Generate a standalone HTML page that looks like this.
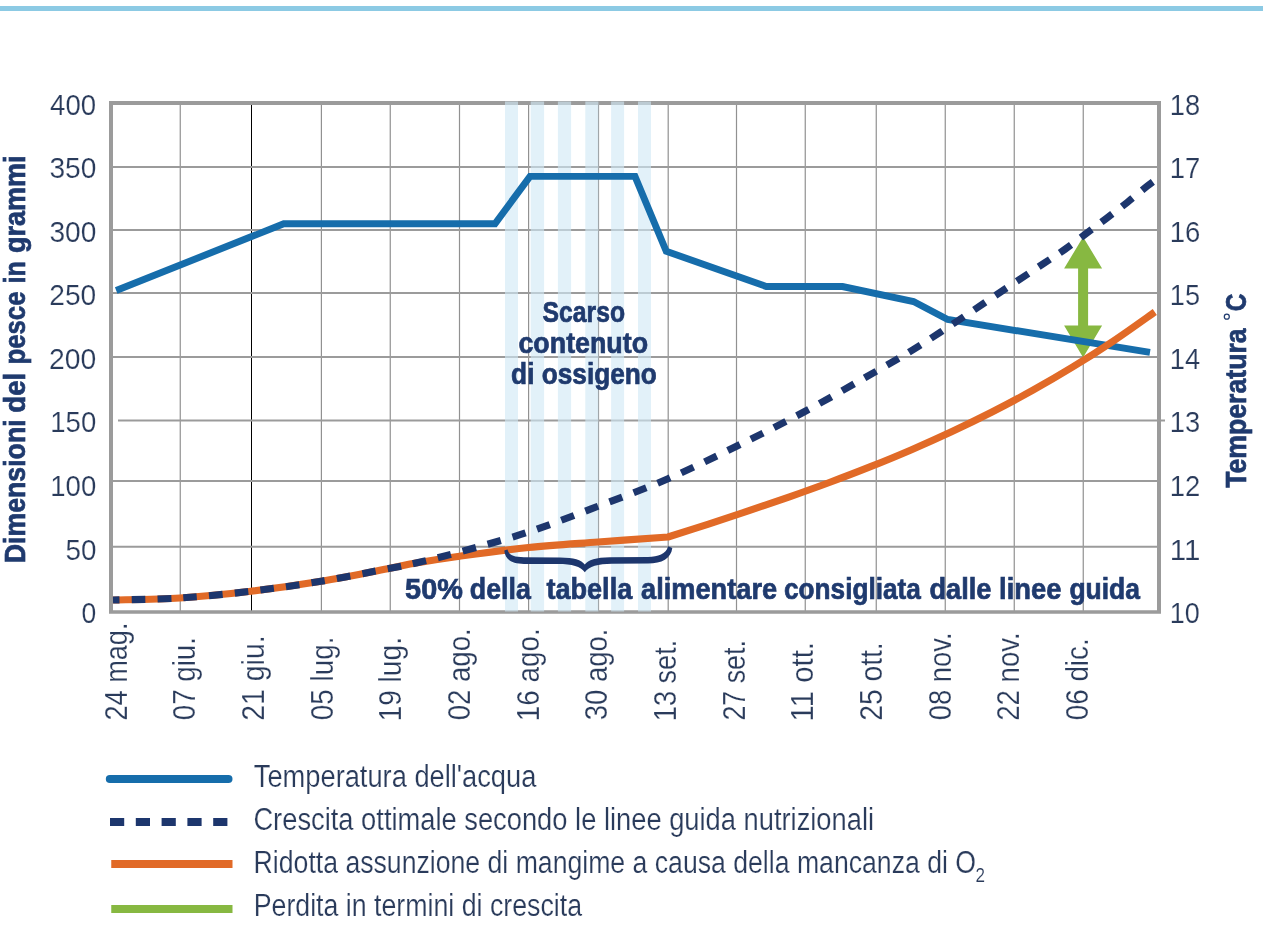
<!DOCTYPE html>
<html><head><meta charset="utf-8"><title>Chart</title>
<style>html,body{margin:0;padding:0;background:#fff;overflow:hidden;}svg{display:block;will-change:transform;}text{font-family:"Liberation Sans",sans-serif;}</style></head><body>
<svg width="1263" height="930" viewBox="0 0 1263 930">
<rect width="1263" height="930" fill="#ffffff"/>
<rect x="0" y="6" width="1263" height="5" fill="#8ccae4"/>
<line x1="180.25" y1="103" x2="180.25" y2="611" stroke="#919191" stroke-width="1.2"/>
<rect x="251" y="101" width="1" height="511" fill="#000"/>
<line x1="321.40" y1="103" x2="321.40" y2="611" stroke="#919191" stroke-width="1.2"/>
<line x1="390.25" y1="103" x2="390.25" y2="611" stroke="#919191" stroke-width="1.2"/>
<line x1="459.50" y1="103" x2="459.50" y2="611" stroke="#919191" stroke-width="1.2"/>
<line x1="528.60" y1="103" x2="528.60" y2="611" stroke="#919191" stroke-width="1.2"/>
<line x1="598.50" y1="103" x2="598.50" y2="611" stroke="#919191" stroke-width="1.2"/>
<line x1="668.20" y1="103" x2="668.20" y2="611" stroke="#919191" stroke-width="1.2"/>
<line x1="736.50" y1="103" x2="736.50" y2="611" stroke="#919191" stroke-width="1.2"/>
<line x1="805.25" y1="103" x2="805.25" y2="611" stroke="#919191" stroke-width="1.2"/>
<line x1="876.25" y1="103" x2="876.25" y2="611" stroke="#919191" stroke-width="1.2"/>
<line x1="945.25" y1="103" x2="945.25" y2="611" stroke="#919191" stroke-width="1.2"/>
<line x1="1014.25" y1="103" x2="1014.25" y2="611" stroke="#919191" stroke-width="1.2"/>
<line x1="1083.25" y1="103" x2="1083.25" y2="611" stroke="#919191" stroke-width="1.2"/>
<line x1="111.00" y1="166.90" x2="1159.00" y2="166.90" stroke="#9b9b9b" stroke-width="2"/>
<line x1="111.00" y1="230.00" x2="1159.00" y2="230.00" stroke="#9b9b9b" stroke-width="2"/>
<line x1="111.00" y1="293.00" x2="1159.00" y2="293.00" stroke="#9b9b9b" stroke-width="2"/>
<line x1="111.00" y1="357.00" x2="1159.00" y2="357.00" stroke="#9b9b9b" stroke-width="2"/>
<line x1="118.00" y1="420.60" x2="1165.00" y2="420.60" stroke="#9b9b9b" stroke-width="2"/>
<line x1="111.00" y1="481.00" x2="1159.00" y2="481.00" stroke="#9b9b9b" stroke-width="2"/>
<line x1="111.00" y1="546.70" x2="1159.00" y2="546.70" stroke="#9b9b9b" stroke-width="2"/>
<path d="M109 101H1161V613.8H109Z M113 105V610.3H1157V105Z" fill="#9b9b9b" fill-rule="evenodd"/>
<rect x="505.00" y="101.5" width="13.00" height="510" fill="#d0e8f6" fill-opacity="0.62"/>
<rect x="530.70" y="101.5" width="13.40" height="510" fill="#d0e8f6" fill-opacity="0.62"/>
<rect x="557.90" y="101.5" width="13.20" height="510" fill="#d0e8f6" fill-opacity="0.62"/>
<rect x="585.30" y="101.5" width="13.10" height="510" fill="#d0e8f6" fill-opacity="0.62"/>
<rect x="611.10" y="101.5" width="13.00" height="510" fill="#d0e8f6" fill-opacity="0.62"/>
<rect x="638.00" y="101.5" width="13.00" height="510" fill="#d0e8f6" fill-opacity="0.62"/>
<path d="M1083.1 237 L1102.1 268.4 L1088.1 268.4 L1088.1 325.6 L1102.1 325.6 L1083.1 357.5 L1064.1 325.6 L1078.1 325.6 L1078.1 268.4 L1064.1 268.4 Z" fill="#87b841"/>
<polyline points="116.20,290.50 283.75,223.75 495.00,223.75 530.00,176.40 635.00,176.40 666.25,251.25 766.25,286.50 842.50,286.50 913.50,301.50 947.70,319.50 1150.00,352.40" fill="none" stroke="#166dab" stroke-width="6.9" stroke-linejoin="miter"/>
<path d="M113.00 600.00 C124.17 599.67 157.00 599.46 180.00 598.00 C203.00 596.54 227.50 594.04 251.00 591.25 C274.50 588.46 297.83 585.08 321.00 581.25 C344.17 577.42 374.17 571.29 390.00 568.25 C405.83 565.21 404.42 565.00 416.00 563.00 C427.58 561.00 440.75 558.83 459.50 556.25 C478.25 553.67 505.42 549.88 528.50 547.50 C551.58 545.12 574.75 543.75 598.00 542.00 C621.25 540.25 656.33 537.83 668.00 537.00 L668.00 537.00 C674.75 534.84 695.00 528.44 708.50 524.06 C722.00 519.68 735.50 515.25 749.00 510.72 C762.50 506.19 776.00 501.60 789.50 496.85 C803.00 492.10 816.50 487.27 830.00 482.24 C843.50 477.21 857.00 472.06 870.50 466.67 C884.00 461.28 897.50 455.74 911.00 449.92 C924.50 444.10 938.00 438.09 951.50 431.77 C965.00 425.45 978.50 418.91 992.00 412.02 C1005.50 405.13 1019.00 397.98 1032.50 390.44 C1046.00 382.90 1059.50 375.06 1073.00 366.81 C1086.50 358.56 1099.87 350.07 1113.50 340.93 C1127.13 331.79 1147.92 316.81 1154.80 311.98" fill="none" stroke="#e16a27" stroke-width="7.1" stroke-linejoin="round"/>
<path d="M113.00 600.00 C124.17 599.67 157.00 599.46 180.00 598.00 C203.00 596.54 227.50 594.04 251.00 591.25 C274.50 588.46 297.83 585.08 321.00 581.25 C344.17 577.42 374.17 571.29 390.00 568.25 C405.83 565.21 404.42 565.71 416.00 563.00 C427.58 560.29 440.75 557.17 459.50 552.00 C478.25 546.83 505.42 539.62 528.50 532.00 C551.58 524.38 574.75 515.12 598.00 506.25 C621.25 497.38 644.92 488.75 668.00 478.75 C691.08 468.75 713.62 457.50 736.50 446.25 C759.38 435.00 781.96 423.75 805.25 411.25 C828.54 398.75 858.29 381.49 876.25 371.25 C894.21 361.01 899.38 358.24 913.00 349.80 C926.62 341.36 943.33 330.28 958.00 320.60 C972.67 310.92 986.67 301.25 1001.00 291.70 C1015.33 282.15 1033.27 270.42 1044.00 263.30 C1054.73 256.18 1058.33 253.98 1065.40 249.00 C1072.47 244.02 1079.50 238.55 1086.40 233.40 C1093.30 228.25 1099.95 223.30 1106.80 218.10 C1113.65 212.90 1120.75 207.55 1127.50 202.20 C1134.25 196.85 1142.72 189.67 1147.30 186.00 C1151.88 182.33 1153.72 181.17 1155.00 180.20" fill="none" stroke="#1d366d" stroke-width="7.1" stroke-dasharray="13.6 12.2" stroke-dashoffset="7.0"/>
<path d="M507.5 549.5 C509 555.5 514 557.2 524 557.2 L560 557.4 C574 557.5 581.5 559.8 584.8 564.6 C588 559.8 596 557.4 610 557.2 L648 556.9 C658 556.8 666 554 668.2 546.3 L672.3 548 C671 558.5 662 563.5 648 563.6 L612 563.7 C598 563.8 589 566.2 584.8 572.3 C580.6 566.2 572 563.9 558 563.9 L524 563.9 C512 563.9 505 559.5 504.3 550.5 Z" fill="#1d366d"/>
<text x="50.07" y="114.50" font-size="30" fill="#2a3b5b" stroke="#fff" stroke-width="0.2" textLength="46.00" lengthAdjust="spacingAndGlyphs">400</text>
<text x="49.41" y="178.09" font-size="30" fill="#2a3b5b" stroke="#fff" stroke-width="0.2" textLength="46.95" lengthAdjust="spacingAndGlyphs">350</text>
<text x="49.41" y="241.68" font-size="30" fill="#2a3b5b" stroke="#fff" stroke-width="0.2" textLength="46.95" lengthAdjust="spacingAndGlyphs">300</text>
<text x="49.30" y="305.27" font-size="30" fill="#2a3b5b" stroke="#fff" stroke-width="0.2" textLength="46.95" lengthAdjust="spacingAndGlyphs">250</text>
<text x="48.91" y="368.86" font-size="30" fill="#2a3b5b" stroke="#fff" stroke-width="0.2" textLength="47.22" lengthAdjust="spacingAndGlyphs">200</text>
<text x="50.25" y="432.45" font-size="30" fill="#2a3b5b" stroke="#fff" stroke-width="0.2" textLength="45.95" lengthAdjust="spacingAndGlyphs">150</text>
<text x="50.25" y="496.04" font-size="30" fill="#2a3b5b" stroke="#fff" stroke-width="0.2" textLength="45.95" lengthAdjust="spacingAndGlyphs">100</text>
<text x="65.47" y="559.63" font-size="30" fill="#2a3b5b" stroke="#fff" stroke-width="0.2" textLength="30.90" lengthAdjust="spacingAndGlyphs">50</text>
<text x="81.40" y="623.22" font-size="30" fill="#2a3b5b" stroke="#fff" stroke-width="0.2" textLength="14.74" lengthAdjust="spacingAndGlyphs">0</text>
<text x="1169.74" y="114.50" font-size="30" fill="#2a3b5b" stroke="#fff" stroke-width="0.2" textLength="30.36" lengthAdjust="spacingAndGlyphs">18</text>
<text x="1169.85" y="178.09" font-size="30" fill="#2a3b5b" stroke="#fff" stroke-width="0.2" textLength="30.52" lengthAdjust="spacingAndGlyphs">17</text>
<text x="1169.67" y="241.68" font-size="30" fill="#2a3b5b" stroke="#fff" stroke-width="0.2" textLength="30.59" lengthAdjust="spacingAndGlyphs">16</text>
<text x="1169.82" y="305.27" font-size="30" fill="#2a3b5b" stroke="#fff" stroke-width="0.2" textLength="30.19" lengthAdjust="spacingAndGlyphs">15</text>
<text x="1169.84" y="368.86" font-size="30" fill="#2a3b5b" stroke="#fff" stroke-width="0.2" textLength="30.36" lengthAdjust="spacingAndGlyphs">14</text>
<text x="1169.87" y="432.45" font-size="30" fill="#2a3b5b" stroke="#fff" stroke-width="0.2" textLength="30.39" lengthAdjust="spacingAndGlyphs">13</text>
<text x="1169.85" y="496.04" font-size="30" fill="#2a3b5b" stroke="#fff" stroke-width="0.2" textLength="30.51" lengthAdjust="spacingAndGlyphs">12</text>
<text x="1169.75" y="559.63" font-size="30" fill="#2a3b5b" stroke="#fff" stroke-width="0.2" textLength="30.63" lengthAdjust="spacingAndGlyphs">11</text>
<text x="1169.87" y="623.22" font-size="30" fill="#2a3b5b" stroke="#fff" stroke-width="0.2" textLength="30.01" lengthAdjust="spacingAndGlyphs">10</text>
<text transform="translate(126.70 720.47) rotate(-90)" font-size="32" fill="#2a3b5b" stroke="#fff" stroke-width="0.2" textLength="97.90" lengthAdjust="spacingAndGlyphs">24 mag.</text>
<text transform="translate(195.37 720.29) rotate(-90)" font-size="32" fill="#2a3b5b" stroke="#fff" stroke-width="0.2" textLength="83.26" lengthAdjust="spacingAndGlyphs">07 giu.</text>
<text transform="translate(264.04 720.71) rotate(-90)" font-size="32" fill="#2a3b5b" stroke="#fff" stroke-width="0.2" textLength="85.36" lengthAdjust="spacingAndGlyphs">21 giu.</text>
<text transform="translate(332.71 720.30) rotate(-90)" font-size="32" fill="#2a3b5b" stroke="#fff" stroke-width="0.2" textLength="83.67" lengthAdjust="spacingAndGlyphs">05 lug.</text>
<text transform="translate(401.38 721.47) rotate(-90)" font-size="32" fill="#2a3b5b" stroke="#fff" stroke-width="0.2" textLength="84.42" lengthAdjust="spacingAndGlyphs">19 lug.</text>
<text transform="translate(470.05 720.33) rotate(-90)" font-size="32" fill="#2a3b5b" stroke="#fff" stroke-width="0.2" textLength="91.97" lengthAdjust="spacingAndGlyphs">02 ago.</text>
<text transform="translate(538.72 721.26) rotate(-90)" font-size="32" fill="#2a3b5b" stroke="#fff" stroke-width="0.2" textLength="92.87" lengthAdjust="spacingAndGlyphs">16 ago.</text>
<text transform="translate(607.39 720.37) rotate(-90)" font-size="32" fill="#2a3b5b" stroke="#fff" stroke-width="0.2" textLength="91.84" lengthAdjust="spacingAndGlyphs">30 ago.</text>
<text transform="translate(676.06 721.22) rotate(-90)" font-size="32" fill="#2a3b5b" stroke="#fff" stroke-width="0.2" textLength="81.49" lengthAdjust="spacingAndGlyphs">13 set.</text>
<text transform="translate(744.73 720.62) rotate(-90)" font-size="32" fill="#2a3b5b" stroke="#fff" stroke-width="0.2" textLength="80.50" lengthAdjust="spacingAndGlyphs">27 set.</text>
<text transform="translate(813.40 721.40) rotate(-90)" font-size="32" fill="#2a3b5b" stroke="#fff" stroke-width="0.2" textLength="79.33" lengthAdjust="spacingAndGlyphs">11 ott.</text>
<text transform="translate(882.07 720.71) rotate(-90)" font-size="32" fill="#2a3b5b" stroke="#fff" stroke-width="0.2" textLength="78.42" lengthAdjust="spacingAndGlyphs">25 ott.</text>
<text transform="translate(950.74 720.33) rotate(-90)" font-size="32" fill="#2a3b5b" stroke="#fff" stroke-width="0.2" textLength="88.01" lengthAdjust="spacingAndGlyphs">08 nov.</text>
<text transform="translate(1019.41 720.77) rotate(-90)" font-size="32" fill="#2a3b5b" stroke="#fff" stroke-width="0.2" textLength="88.45" lengthAdjust="spacingAndGlyphs">22 nov.</text>
<text transform="translate(1088.08 720.30) rotate(-90)" font-size="32" fill="#2a3b5b" stroke="#fff" stroke-width="0.2" textLength="82.01" lengthAdjust="spacingAndGlyphs">06 dic.</text>
<text transform="translate(24.5 563.16) rotate(-90)" font-size="29" font-weight="bold" fill="#1f3a6e" stroke="#1f3a6e" stroke-width="0.7" textLength="143.80" lengthAdjust="spacingAndGlyphs">Dimensioni</text>
<text transform="translate(24.5 412.82) rotate(-90)" font-size="29" font-weight="bold" fill="#1f3a6e" stroke="#1f3a6e" stroke-width="0.7" textLength="40.12" lengthAdjust="spacingAndGlyphs">del</text>
<text transform="translate(24.5 364.61) rotate(-90)" font-size="29" font-weight="bold" fill="#1f3a6e" stroke="#1f3a6e" stroke-width="0.7" textLength="73.09" lengthAdjust="spacingAndGlyphs">pesce</text>
<text transform="translate(24.5 283.49) rotate(-90)" font-size="29" font-weight="bold" fill="#1f3a6e" stroke="#1f3a6e" stroke-width="0.7" textLength="22.10" lengthAdjust="spacingAndGlyphs">in</text>
<text transform="translate(24.5 253.03) rotate(-90)" font-size="29" font-weight="bold" fill="#1f3a6e" stroke="#1f3a6e" stroke-width="0.7" textLength="97.66" lengthAdjust="spacingAndGlyphs">grammi</text>
<text transform="translate(1245.75 487.87) rotate(-90)" font-size="29" font-weight="bold" fill="#1f3a6e" stroke="#1f3a6e" stroke-width="0.7" textLength="159.57" lengthAdjust="spacingAndGlyphs">Temperatura</text>
<text transform="translate(1245.75 311.14) rotate(-90)" font-size="29" font-weight="bold" fill="#1f3a6e" stroke="#1f3a6e" stroke-width="0.7" textLength="17.70" lengthAdjust="spacingAndGlyphs">C</text>
<circle cx="1226.8" cy="316.7" r="2.5" fill="none" stroke="#1f3a6e" stroke-width="1.25"/>
<text x="542.60" y="321.60" font-size="29" font-weight="bold" fill="#1f3a6e" stroke="#1f3a6e" stroke-width="0.7" textLength="82.50" lengthAdjust="spacingAndGlyphs">Scarso</text>
<text x="518.43" y="353.10" font-size="29" font-weight="bold" fill="#1f3a6e" stroke="#1f3a6e" stroke-width="0.7" textLength="129.68" lengthAdjust="spacingAndGlyphs">contenuto</text>
<text x="511.12" y="383.90" font-size="29" font-weight="bold" fill="#1f3a6e" stroke="#1f3a6e" stroke-width="0.7" textLength="145.77" lengthAdjust="spacingAndGlyphs">di ossigeno</text>
<text x="405.09" y="598.5" font-size="29" font-weight="bold" fill="#1f3a6e" stroke="#1f3a6e" stroke-width="0.7" textLength="57.77" lengthAdjust="spacingAndGlyphs">50%</text>
<text x="469.87" y="598.5" font-size="29" font-weight="bold" fill="#1f3a6e" stroke="#1f3a6e" stroke-width="0.7" textLength="60.97" lengthAdjust="spacingAndGlyphs">della</text>
<text x="546.44" y="598.5" font-size="29" font-weight="bold" fill="#1f3a6e" stroke="#1f3a6e" stroke-width="0.7" textLength="85.79" lengthAdjust="spacingAndGlyphs">tabella</text>
<text x="641.08" y="598.5" font-size="29" font-weight="bold" fill="#1f3a6e" stroke="#1f3a6e" stroke-width="0.7" textLength="136.02" lengthAdjust="spacingAndGlyphs">alimentare</text>
<text x="784.06" y="598.5" font-size="29" font-weight="bold" fill="#1f3a6e" stroke="#1f3a6e" stroke-width="0.7" textLength="136.79" lengthAdjust="spacingAndGlyphs">consigliata</text>
<text x="929.41" y="598.5" font-size="29" font-weight="bold" fill="#1f3a6e" stroke="#1f3a6e" stroke-width="0.7" textLength="62.00" lengthAdjust="spacingAndGlyphs">dalle</text>
<text x="999.09" y="598.5" font-size="29" font-weight="bold" fill="#1f3a6e" stroke="#1f3a6e" stroke-width="0.7" textLength="62.30" lengthAdjust="spacingAndGlyphs">linee</text>
<text x="1069.41" y="598.5" font-size="29" font-weight="bold" fill="#1f3a6e" stroke="#1f3a6e" stroke-width="0.7" textLength="70.58" lengthAdjust="spacingAndGlyphs">guida</text>
<line x1="109.9" y1="779" x2="228.4" y2="779" stroke="#166dab" stroke-width="8.2" stroke-linecap="round"/>
<line x1="110" y1="822" x2="227.6" y2="822" stroke="#1d366d" stroke-width="8" stroke-dasharray="14.2 11.6"/>
<line x1="111.25" y1="863.95" x2="232.5" y2="863.95" stroke="#e16a27" stroke-width="8"/>
<line x1="111.25" y1="909" x2="232.5" y2="909" stroke="#87b841" stroke-width="8"/>
<text x="253.80" y="786.80" font-size="31" fill="#2a3b5b" stroke="#fff" stroke-width="0.2" textLength="282.56" lengthAdjust="spacingAndGlyphs">Temperatura dell'acqua</text>
<text x="253.42" y="829.80" font-size="31" fill="#2a3b5b" stroke="#fff" stroke-width="0.2" textLength="620.63" lengthAdjust="spacingAndGlyphs">Crescita ottimale secondo le linee guida nutrizionali</text>
<text x="253.62" y="872.80" font-size="31" fill="#2a3b5b" stroke="#fff" stroke-width="0.2" textLength="722.39" lengthAdjust="spacingAndGlyphs">Ridotta assunzione di mangime a causa della mancanza di O</text>
<text x="253.69" y="916.00" font-size="31" fill="#2a3b5b" stroke="#fff" stroke-width="0.2" textLength="328.34" lengthAdjust="spacingAndGlyphs">Perdita in termini di crescita</text>
<text x="975.6" y="882.2" font-size="20.5" fill="#2a3b5b" stroke="#fff" stroke-width="0.15" textLength="9.5" lengthAdjust="spacingAndGlyphs">2</text>
</svg></body></html>
